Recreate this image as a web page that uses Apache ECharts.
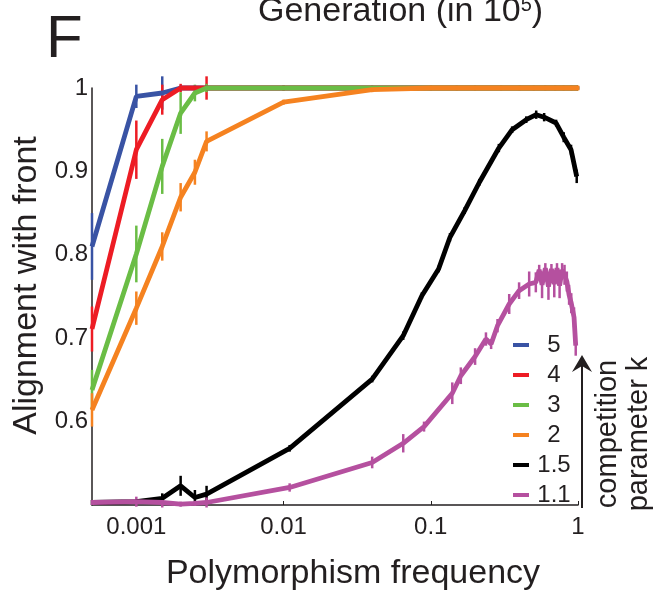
<!DOCTYPE html>
<html>
<head>
<meta charset="utf-8">
<script src="https://cdn.jsdelivr.net/npm/echarts@6/dist/echarts.min.js"></script>
<style>
  html, body { margin: 0; padding: 0; background: #fff; }
  #main { width: 654px; height: 592px; }
</style>
</head>
<body>
<div id="main"></div>
<script>
// polymorphism frequencies used for k = 5, 4, 3, 2
const topX = [0.0005, 0.001, 0.0015, 0.002, 0.0025, 0.003, 0.01, 0.04, 0.1, 0.15, 0.2, 0.3, 0.4, 0.5, 0.6, 0.7, 0.8, 0.9, 1];

const y5 = [0.81, 0.99, 0.994, 1, 1, 1, 1, 1, 1, 1, 1, 1, 1, 1, 1, 1, 1, 1, 1];
const e5 = [0.04, 0.014, 0.02, 0.003, 0.002, 0.002, 0.002, 0.002, 0.002, 0.002, 0.002, 0.002, 0.002, 0.002, 0.002, 0.002, 0.002, 0.002, 0.002];
const y4 = [0.711, 0.926, 0.986, 1, 1, 1, 1, 1, 1, 1, 1, 1, 1, 1, 1, 1, 1, 1, 1];
const e4 = [0.027, 0.035, 0.018, 0.005, 0.003, 0.014, 0.003, 0.002, 0.002, 0.002, 0.002, 0.002, 0.002, 0.002, 0.002, 0.002, 0.002, 0.002, 0.002];
const y3 = [0.638, 0.801, 0.906, 0.97, 0.994, 1, 1, 1, 1, 1, 1, 1, 1, 1, 1, 1, 1, 1, 1];
const e3 = [0.024, 0.034, 0.033, 0.025, 0.01, 0.005, 0.003, 0.003, 0.002, 0.002, 0.002, 0.002, 0.002, 0.002, 0.002, 0.002, 0.002, 0.002, 0.002];
const y2 = [0.614, 0.736, 0.81, 0.869, 0.899, 0.936, 0.983, 0.998, 1, 1, 1, 1, 1, 1, 1, 1, 1, 1, 1];
const e2 = [0.02, 0.02, 0.017, 0.017, 0.015, 0.012, 0.003, 0.003, 0.003, 0.003, 0.003, 0.003, 0.003, 0.003, 0.003, 0.003, 0.003, 0.003, 0.003];

// k = 1.5
const x15 = [0.0005, 0.001, 0.0015, 0.002, 0.0025, 0.003, 0.011, 0.04, 0.065, 0.087, 0.113, 0.135, 0.17, 0.214, 0.29, 0.357, 0.445, 0.52, 0.589, 0.71, 0.8, 0.897, 0.98];
const y15 = [0.503, 0.504, 0.508, 0.523, 0.509, 0.513, 0.568, 0.651, 0.703, 0.751, 0.783, 0.821, 0.853, 0.887, 0.928, 0.95, 0.962, 0.968, 0.965, 0.958, 0.941, 0.926, 0.894];
const e15 = [0.003, 0.003, 0.006, 0.012, 0.009, 0.01, 0.004, 0.004, 0.005, 0.004, 0.004, 0.005, 0.004, 0.004, 0.005, 0.004, 0.004, 0.005, 0.005, 0.004, 0.006, 0.006, 0.008];

// k = 1.1
const x11 = [0.0005, 0.001, 0.0015, 0.002, 0.0025, 0.003, 0.011, 0.04, 0.065, 0.09, 0.14, 0.16, 0.2, 0.237, 0.257, 0.284, 0.341, 0.398, 0.466, 0.517, 0.545, 0.57, 0.6, 0.63, 0.66, 0.69, 0.72, 0.75, 0.78, 0.81, 0.84, 0.87, 0.9, 0.94, 0.965];
const y11 = [0.503, 0.504, 0.503, 0.501, 0.502, 0.503, 0.521, 0.551, 0.574, 0.594, 0.634, 0.655, 0.678, 0.699, 0.693, 0.715, 0.741, 0.757, 0.765, 0.767, 0.782, 0.764, 0.784, 0.762, 0.783, 0.765, 0.784, 0.763, 0.782, 0.776, 0.768, 0.752, 0.742, 0.725, 0.691];
const e11 = [0.003, 0.006, 0.006, 0.003, 0.003, 0.006, 0.005, 0.007, 0.011, 0.006, 0.013, 0.01, 0.01, 0.008, 0.006, 0.008, 0.012, 0.01, 0.015, 0.012, 0.006, 0.016, 0.006, 0.016, 0.006, 0.016, 0.006, 0.015, 0.008, 0.012, 0.012, 0.012, 0.012, 0.012, 0.012];

const kNames = ['5', '4', '3', '2', '1.5', '1.1'];
const kColors = ['#3953A4', '#ED1C24', '#6ABD45', '#F58220', '#000000', '#B5509F'];
const kX = [topX, topX, topX, topX, x15, x11];
const kY = [y5, y4, y3, y2, y15, y11];
const kE = [e5, e4, e3, e2, e15, e11];

const ink = '#231F20';
const font = 'Liberation Sans, Arial, Helvetica, sans-serif';

// vertical error bar drawn in data coordinates
function errBar(params, api) {
  const lo = api.coord([api.value(0), api.value(1) - api.value(2)]);
  const hi = api.coord([api.value(0), api.value(1) + api.value(2)]);
  return {
    type: 'line',
    shape: { x1: lo[0], y1: lo[1], x2: hi[0], y2: hi[1] },
    style: { stroke: api.visual('color'), lineWidth: 2.5 }
  };
}

const series = [];
kNames.forEach(function (name, i) {
  series.push({
    name: name,
    type: 'line',
    showSymbol: false,
    clip: false,
    lineStyle: { width: 4.8, color: kColors[i] },
    itemStyle: { color: kColors[i] },
    data: kX[i].map(function (x, j) { return [x, kY[i][j]]; })
  });
  series.push({
    name: name,
    type: 'custom',
    clip: false,
    renderItem: errBar,
    itemStyle: { color: kColors[i] },
    encode: { x: 0, y: 1 },
    data: kX[i].map(function (x, j) { return [x, kY[i][j], kE[i][j]]; })
  });
});

const chart = echarts.init(document.getElementById('main'));
chart.setOption({
  animation: false,
  textStyle: { fontFamily: font },
  title: {
    text: 'Generation (in 10{s|5})',
    left: 253,
    top: -10,
    textStyle: {
      fontSize: 34, fontWeight: 'normal', color: ink, fontFamily: font,
      rich: { s: { fontSize: 20, verticalAlign: 'top', color: ink, padding: [0, 0, 14, 0] } }
    }
  },
  grid: { left: 92, right: 76, top: 88, bottom: 87, outerBoundsMode: 'none' },
  legend: {
    orient: 'vertical',
    left: 508,
    top: 328,
    icon: 'rect',
    itemWidth: 16,
    itemHeight: 4,
    itemGap: 6,
    data: kNames,
    formatter: function (name) { return '{a|' + name + '}'; },
    textStyle: {
      color: ink, fontSize: 24, lineHeight: 24,
      rich: { a: { width: 40, align: 'center', fontSize: 24, color: ink } }
    }
  },
  xAxis: {
    type: 'log',
    logBase: 10,
    min: 0.0005,
    max: 1,
    name: 'Polymorphism frequency',
    nameLocation: 'middle',
    nameGap: 52,
    nameTextStyle: { fontSize: 34, color: ink, padding: [0, 0, 0, 36] },
    axisLine: { lineStyle: { color: ink, width: 1.5 } },
    axisTick: { inside: true, length: 4, lineStyle: { color: ink } },
    splitLine: { show: false },
    axisLabel: {
      fontSize: 24, color: ink, margin: 10,
      formatter: function (v) {
        const p = Math.log10(v);
        return Math.abs(p - Math.round(p)) < 1e-6 ? String(+v.toPrecision(3)) : '';
      }
    }
  },
  yAxis: {
    type: 'value',
    min: 0.5,
    max: 1,
    interval: 0.1,
    name: 'Alignment with front',
    nameLocation: 'middle',
    nameRotate: 90,
    nameGap: 48,
    nameTextStyle: { fontSize: 34, color: ink, padding: [0, 0, 0, 22] },
    axisLine: { show: true, lineStyle: { color: ink, width: 1.5 } },
    axisTick: { show: false },
    splitLine: { show: false },
    axisLabel: {
      fontSize: 24, color: ink, margin: 4,
      formatter: function (v) {
        if (v < 0.55) return '';
        return v > 0.99 ? '1' : v.toFixed(1);
      }
    }
  },
  graphic: [
    {
      type: 'text', left: 46, top: 10,
      style: { text: 'F', fontSize: 60, fill: ink, fontFamily: font }
    },
    {
      type: 'line',
      shape: { x1: 582, y1: 508, x2: 582, y2: 364 },
      style: { stroke: ink, lineWidth: 2 }
    },
    {
      type: 'polygon',
      shape: { points: [[582, 355], [592, 372], [582, 366], [572, 372]] },
      style: { fill: ink }
    },
    {
      type: 'text',
      x: 623, y: 434,
      rotation: Math.PI / 2,
      style: {
        text: 'competition\nparameter k',
        fontSize: 29, lineHeight: 31, fill: ink, fontFamily: font,
        align: 'center', verticalAlign: 'middle'
      }
    }
  ],
  series: series
});
</script>
</body>
</html>
